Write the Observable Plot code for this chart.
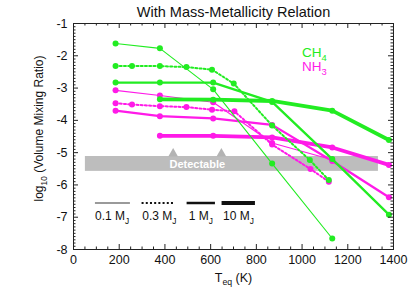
<!DOCTYPE html>
<html><head><meta charset="utf-8">
<script src="https://cdn.jsdelivr.net/npm/d3@7"></script>
<script src="https://cdn.jsdelivr.net/npm/@observablehq/plot@0.6"></script>
<style>
body{margin:0;background:#fff;}
svg{font-family:"Liberation Sans",Arial,Helvetica,sans-serif;}
</style>
</head><body><div id="chart"></div>
<script>
// ---- data ----
const title = "With Mass-Metallicity Relation";
const speciesLabels = ["CH_{4}", "NH_{3}"];
const massLabels = ["0.1 M_{J}", "0.3 M_{J}", "1 M_{J}", "10 M_{J}"];
const xTickValues = [0, 200, 400, 600, 800, 1000, 1200, 1400];
const yTickValues = [-8, -7, -6, -5, -4, -3, -2, -1];

const ch4_01_T = [184, 378, 611, 869, 1132];
const ch4_01_V = [-1.62, -1.77, -3.04, -5.34, -7.66];
const ch4_03_T = [184, 256, 378, 494, 606, 701, 869, 1034, 1117];
const ch4_03_V = [-2.32, -2.32, -2.32, -2.35, -2.43, -2.86, -4.16, -5.23, -5.85];
const ch4_1_T = [184, 378, 611, 869, 1132, 1380];
const ch4_1_V = [-2.83, -2.83, -2.83, -3.43, -5.20, -6.92];
const ch4_10_T = [378, 611, 869, 1132, 1380];
const ch4_10_V = [-3.35, -3.36, -3.40, -3.70, -4.61];

const nh3_01_T = [184, 378, 611, 869, 1132];
const nh3_01_V = [-3.07, -3.23, -3.44, -4.70, -5.22];
const nh3_03_T = [184, 256, 378, 494, 606, 704, 869, 1037, 1117];
const nh3_03_V = [-3.47, -3.51, -3.56, -3.59, -3.67, -3.72, -4.75, -5.51, -5.90];
const nh3_1_T = [184, 378, 611, 869, 1132, 1380];
const nh3_1_V = [-3.70, -3.87, -3.94, -4.14, -5.26, -6.38];
const nh3_10_T = [378, 611, 869, 1132, 1380];
const nh3_10_V = [-4.48, -4.48, -4.53, -4.84, -5.38];

const detectableRange = [-5.12, -5.58];      // log10 VMR band
const detectableTemps = [52, 1334];          // extent of the band
const detectableArrowT = [436, 647];
const detectableText = "Detectable";

// ---- layout / styles ----
const W = 415, H = 297, mL = 73, mR = 22, mT = 23, mB = 48;
const frameW = W - mL - mR, frameH = H - mT - mB;
const colors = ["#22ec22", "#ff1ae8"];
const widths = [1.1, 2, 2.3, 3.8];
const dashes = [null, "2,2.2", null, null];
const legendLine = {y: -6.56, x: [[96, 249], [300, 446], [497, 621], [650, 796]], stroke: ["#9a9a9a", "#111", "#111", "#111"], width: [2, 2, 2.5, 4]};
const legendText = {y: -6.98, x: [169, 376, 557, 722]};
const speciesPos = {x: 1000, y: [-1.89, -2.35]};

const seriesList = [
  {s: 1, m: 0, T: nh3_01_T, V: nh3_01_V},
  {s: 1, m: 1, T: nh3_03_T, V: nh3_03_V},
  {s: 1, m: 2, T: nh3_1_T, V: nh3_1_V},
  {s: 1, m: 3, T: nh3_10_T, V: nh3_10_V},
  {s: 0, m: 0, T: ch4_01_T, V: ch4_01_V},
  {s: 0, m: 1, T: ch4_03_T, V: ch4_03_V},
  {s: 0, m: 2, T: ch4_1_T, V: ch4_1_V},
  {s: 0, m: 3, T: ch4_10_T, V: ch4_10_V}
];

const xMinor = d3.range(0, 1401, 50).filter(d => d % 200 !== 0);
const yMinor = d3.range(-80, -9, 1).map(d => d / 10).filter(d => !Number.isInteger(d));

const marks = [];
// detectable band
marks.push(Plot.rectY([0], {x1: detectableTemps[0], x2: detectableTemps[1], y1: detectableRange[0], y2: detectableRange[1], fill: "#bdbdbd"}));
marks.push(Plot.dot(detectableArrowT, {x: d => d, y: -5.03, symbol: "triangle", r: 3.6, fill: "#b3b3b3"}));
marks.push(Plot.text([detectableText], {x: (detectableArrowT[0] + detectableArrowT[1]) / 2, y: (detectableRange[0] + detectableRange[1]) / 2 - 0.03, fill: "white", fontWeight: "bold", fontSize: 11}));

// series
for (const sr of seriesList) {
  const rows = sr.T.map((t, i) => ({T: t, V: sr.V[i]}));
  marks.push(Plot.line(rows, {x: "T", y: "V", stroke: colors[sr.s], strokeWidth: widths[sr.m], strokeDasharray: dashes[sr.m], strokeLinejoin: "round"}));
  marks.push(Plot.dot(rows, {x: "T", y: "V", r: 3, fill: colors[sr.s], stroke: "none"}));
}

// species legend
speciesLabels.forEach((lab, i) => {
  marks.push(Plot.text([lab], {x: speciesPos.x, y: speciesPos.y[i], fill: colors[i], fontSize: 13.5, textAnchor: "start"}));
});
// mass legend
massLabels.forEach((lab, i) => {
  marks.push(Plot.ruleY([legendLine.y], {x1: legendLine.x[i][0], x2: legendLine.x[i][1], stroke: legendLine.stroke[i], strokeWidth: legendLine.width[i], strokeDasharray: dashes[i]}));
  marks.push(Plot.text([lab], {x: legendText.x[i], y: legendText.y, fontSize: 12, fill: "#111"}));
});

// frame ticks (inward) on all four sides
marks.push(Plot.tickX(xTickValues, {x: d => d, insetTop: frameH - 5, stroke: "#222"}));
marks.push(Plot.tickX(xTickValues, {x: d => d, insetBottom: frameH - 5, stroke: "#222"}));
marks.push(Plot.tickX(xMinor, {x: d => d, insetTop: frameH - 2.5, stroke: "#222"}));
marks.push(Plot.tickX(xMinor, {x: d => d, insetBottom: frameH - 2.5, stroke: "#222"}));
marks.push(Plot.tickY(yTickValues, {y: d => d, insetRight: frameW - 5, stroke: "#222"}));
marks.push(Plot.tickY(yTickValues, {y: d => d, insetLeft: frameW - 5, stroke: "#222"}));
marks.push(Plot.tickY(yMinor, {y: d => d, insetRight: frameW - 2.5, stroke: "#222"}));
marks.push(Plot.tickY(yMinor, {y: d => d, insetLeft: frameW - 2.5, stroke: "#222"}));
marks.push(Plot.frame({stroke: "#222"}));

// axes labels
marks.push(Plot.axisX(xTickValues, {tickSize: 0, tickPadding: 6, label: null, fontSize: 12.5, tickFormat: d => `${d}`}));
marks.push(Plot.axisY(yTickValues, {tickSize: 0, tickPadding: 6, label: null, fontSize: 12.5, tickFormat: d => `${d}`}));
marks.push(Plot.text(["T_{eq} (K)"], {frameAnchor: "bottom", dy: 28, lineAnchor: "middle", fontSize: 12.5}));
marks.push(Plot.text(["log_{10} (Volume Mixing Ratio)"], {frameAnchor: "left", dx: -34, dy: -8, rotate: -90, textAnchor: "middle", lineAnchor: "middle", fontSize: 12}));
marks.push(Plot.text([title], {frameAnchor: "top", dy: -11, lineAnchor: "middle", fontSize: 14.5}));

const chart = Plot.plot({
  width: W, height: H,
  marginLeft: mL, marginRight: mR, marginTop: mT, marginBottom: mB,
  x: {domain: [0, 1400]},
  y: {domain: [-8, -1]},
  style: {fontSize: "12.5px", background: "white", color: "#111"},
  marks
});
document.getElementById("chart").append(chart);

// convert _{...} markup into subscripts
chart.querySelectorAll("text").forEach(t => {
  const s = t.textContent;
  if (!s.includes("_{")) return;
  const fs = parseFloat(getComputedStyle(t).fontSize) || 12;
  const shift = (fs * 0.3).toFixed(2);
  while (t.firstChild) t.removeChild(t.firstChild);
  const re = /_\{([^}]*)\}/g;
  let last = 0, m, lowered = false;
  const add = (str, sub) => {
    const ts = document.createElementNS("http://www.w3.org/2000/svg", "tspan");
    ts.textContent = str;
    if (sub) { ts.setAttribute("font-size", (fs * 0.7).toFixed(2)); ts.setAttribute("dy", shift); lowered = true; }
    else if (lowered) { ts.setAttribute("dy", -shift); lowered = false; }
    t.appendChild(ts);
  };
  while ((m = re.exec(s))) {
    if (m.index > last) add(s.slice(last, m.index), false);
    add(m[1], true);
    last = re.lastIndex;
  }
  if (last < s.length) add(s.slice(last), false);
});
</script>
</body></html>
